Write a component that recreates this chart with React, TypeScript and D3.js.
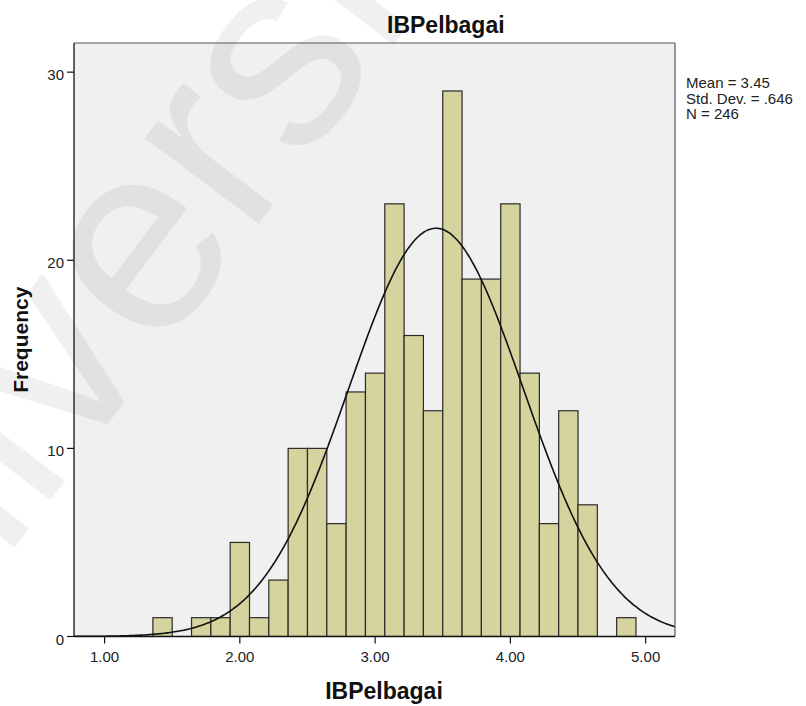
import React from "react";
import * as d3 from "d3";

// ---- data ----
const binCenters = [
  1.4286, 1.5714, 1.7143, 1.8571, 2.0, 2.1429, 2.2857, 2.4286, 2.5714, 2.7143,
  2.8571, 3.0, 3.1429, 3.2857, 3.4286, 3.5714, 3.7143, 3.8571, 4.0, 4.1429,
  4.2857, 4.4286, 4.5714, 4.7143, 4.8571,
];
const counts = [
  1, 0, 1, 1, 5, 1, 3, 10, 10, 6, 13, 14, 23, 16, 12, 29, 19, 19, 23, 14, 6, 12,
  7, 0, 1,
];
const binWidth = 0.142857;
const xTicks = [1, 2, 3, 4, 5];
const xTickLabels = ["1.00", "2.00", "3.00", "4.00", "5.00"];
const yTicks = [0, 10, 20, 30];
const yTickLabels = ["0", "10", "20", "30"];
const statLines = ["Mean = 3.45", "Std. Dev. = .646", "N = 246"];
const meanValue = 3.45;
const sdValue = 0.646;
const nValue = 246;
const titleText = "IBPelbagai";
const xAxisTitle = "IBPelbagai";
const yAxisTitle = "Frequency";
const watermarkText = "Universiti";

const W = 806;
const H = 706;
const plot = { left: 74, right: 675, top: 43, bottom: 636.5 };
const FONT = "'Liberation Sans', Arial, Helvetica, sans-serif";

export default function App() {
  const x = d3.scaleLinear().domain([0.774, 5.217]).range([plot.left, plot.right]);
  const y = d3.scaleLinear().domain([0, 31.55]).range([plot.bottom, plot.top]);

  const bins = binCenters
    .map((c, i) => ({ c, n: counts[i] }))
    .filter((b) => b.n > 0);

  const dens = (v: number) =>
    (nValue * binWidth) / (sdValue * Math.sqrt(2 * Math.PI)) *
    Math.exp(-0.5 * ((v - meanValue) / sdValue) ** 2);
  const [d0, d1] = x.domain();
  const pts = d3.range(0, 401).map((i) => d0 + ((d1 - d0) * i) / 400);
  const line = d3
    .line<number>()
    .x((v) => x(v))
    .y((v) => y(dens(v)))
    .curve(d3.curveBasis);

  return (
    <svg
      width={W}
      height={H}
      style={{ position: "absolute", left: 0, top: 0, background: "#fff" }}
      fontFamily={FONT}
    >
      <rect x={0} y={0} width={W} height={H} fill="#ffffff" />
      <defs>
        <clipPath id="plotClip">
          <rect
            x={plot.left}
            y={plot.top}
            width={plot.right - plot.left}
            height={plot.bottom - plot.top}
          />
        </clipPath>
      </defs>
      <rect
        x={plot.left}
        y={plot.top}
        width={plot.right - plot.left}
        height={plot.bottom - plot.top}
        fill="#f0f0f0"
      />
      {/* watermark */}
      <text
        x={0}
        y={0}
        transform="translate(-168,790) rotate(-53)"
        fontSize={270}
        fill="#000"
        opacity={0.055}
        fontFamily={FONT}
      >
        {watermarkText}
      </text>
      {/* bars */}
      <g clipPath="url(#plotClip)">
        {bins.map((b, i) => (
          <rect
            key={i}
            x={x(b.c - binWidth / 2)}
            y={y(b.n)}
            width={x(b.c + binWidth / 2) - x(b.c - binWidth / 2)}
            height={y(0) - y(b.n)}
            fill="#d6d49e"
            stroke="#2a2a2a"
            strokeWidth={1.2}
          />
        ))}
        <path d={line(pts) || ""} fill="none" stroke="#111" strokeWidth={1.6} />
      </g>
      {/* frame */}
      <line x1={plot.left} x2={plot.right} y1={plot.top} y2={plot.top} stroke="#555" strokeWidth={1.2} />
      <line x1={plot.right} x2={plot.right} y1={plot.top} y2={plot.bottom} stroke="#555" strokeWidth={1.2} />
      <line x1={plot.left} x2={plot.left} y1={plot.top} y2={plot.bottom} stroke="#111" strokeWidth={1.3} />
      <line x1={plot.left} x2={plot.right} y1={plot.bottom} y2={plot.bottom} stroke="#111" strokeWidth={1.3} />
      {/* y ticks */}
      {yTicks.map((t, i) => (
        <g key={t}>
          <line x1={plot.left - 7} x2={plot.left} y1={y(t)} y2={y(t)} stroke="#111" strokeWidth={1.2} />
          <text x={plot.left - 10} y={y(t) + 8} textAnchor="end" fontSize={15} fill="#222">
            {yTickLabels[i]}
          </text>
        </g>
      ))}
      {/* x ticks */}
      {xTicks.map((t, i) => (
        <g key={t}>
          <line x1={x(t)} x2={x(t)} y1={plot.bottom} y2={plot.bottom + 7} stroke="#111" strokeWidth={1.2} />
          <text x={x(t)} y={plot.bottom + 25} textAnchor="middle" fontSize={15} fill="#222">
            {xTickLabels[i]}
          </text>
        </g>
      ))}
      {/* titles */}
      <text x={387} y={33} fontSize={23} fontWeight="bold" fill="#111">
        {titleText}
      </text>
      <text x={384} y={699} textAnchor="middle" fontSize={23} fontWeight="bold" fill="#111">
        {xAxisTitle}
      </text>
      <text
        transform={`translate(28,${(plot.top + plot.bottom) / 2}) rotate(-90)`}
        textAnchor="middle"
        fontSize={21}
        fontWeight="bold"
        fill="#111"
      >
        {yAxisTitle}
      </text>
      {/* stats */}
      {statLines.map((s, i) => (
        <text key={s} x={686} y={88 + i * 15.5} fontSize={15} fill="#222">
          {s}
        </text>
      ))}
    </svg>
  );
}
